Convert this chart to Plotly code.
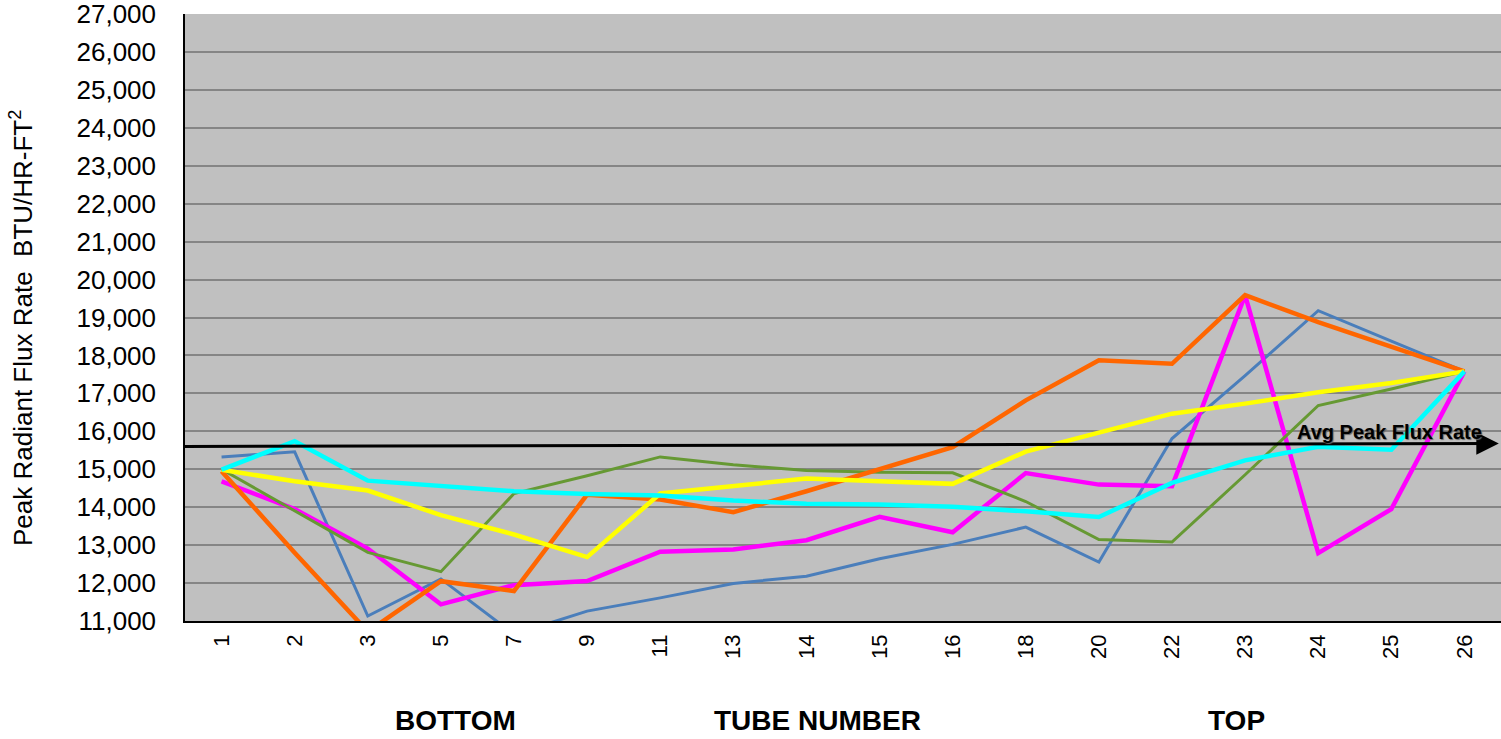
import plotly.graph_objects as go

tubes = ["1", "2", "3", "5", "7", "9", "11", "13", "14", "15", "16", "18", "20", "22", "23", "24", "25", "26"]

series_blue = [15320, 15460, 11130, 12110, 10650, 11260, 11610, 11990, 12180, 12640, 13020, 13475, 12555, 15810, 17470, 19180, 18380, 17580]
series_orange = [14950, 12800, 10720, 12050, 11790, 14330, 14200, 13870, 14420, 14990, 15580, 16815, 17875, 17780, 19590, 18880, 18240, 17580]
series_green = [15000, 13900, 12810, 12300, 14360, 14830, 15325, 15120, 14965, 14920, 14905, 14150, 13145, 13080, 14855, 16680, 17115, 17580]
series_magenta = [14680, 13950, 12910, 11440, 11945, 12055, 12825, 12885, 13130, 13745, 13340, 14900, 14595, 14550, 19590, 12790, 13950, 17580]
series_yellow = [14985, 14685, 14440, 13790, 13280, 12685, 14360, 14555, 14755, 14685, 14615, 15465, 15955, 16465, 16730, 17030, 17275, 17580]
series_cyan = [14990, 15740, 14700, 14555, 14420, 14350, 14305, 14175, 14090, 14070, 14010, 13890, 13740, 14640, 15235, 15590, 15515, 17580]

avg_start = 15600
avg_end = 15680

FONT = "Liberation Sans, Arial, sans-serif"

traces = [
    ("Series 1", series_blue, "#4A7EBB", 3),
    ("Series 4", series_magenta, "#FF00FF", 4.5),
    ("Series 3", series_green, "#669933", 3),
    ("Series 2", series_orange, "#FF6600", 4.5),
    ("Series 5", series_yellow, "#FFFF00", 4.5),
    ("Series 6", series_cyan, "#00FFFF", 4.5),
]

fig = go.Figure()
for name, vals, col, w in traces:
    fig.add_trace(go.Scatter(x=tubes, y=vals, mode="lines", name=name,
                             line=dict(color=col, width=w), showlegend=False,
                             hoverinfo="skip"))

fig.update_layout(
    width=1501, height=739,
    margin=dict(l=185, r=0, t=14, b=118, autoexpand=False),
    paper_bgcolor="white",
    plot_bgcolor="#C0C0C0",
    font=dict(family=FONT, color="black"),
    showlegend=False,
)

fig.update_xaxes(
    type="category", range=[-0.5, len(tubes) - 0.5], automargin=False,
    showgrid=False, showline=True, linecolor="black", linewidth=1.5,
    tickangle=-90, tickfont=dict(size=22, family=FONT, color="black"),
    ticks="", ticklabelstandoff=3, ticklabeloverflow="allow",
)
fig.update_yaxes(
    range=[11000, 27000], dtick=1000, tickformat=",", automargin=False,
    showgrid=True, gridcolor="#858585", gridwidth=1.5,
    showline=True, linecolor="black", linewidth=1.5,
    tickfont=dict(size=26, family=FONT, color="black"),
    ticks="", ticklabelstandoff=22, zeroline=False, ticklabeloverflow="allow",
)

# Average arrow
fig.add_annotation(
    x=len(tubes) - 0.53, y=avg_end, ax=-0.53, ay=avg_start,
    xref="x", yref="y", axref="x", ayref="y",
    showarrow=True, arrowhead=2, arrowsize=1.5, arrowwidth=3, arrowcolor="black",
    text="", standoff=0, startstandoff=0,
)
fig.add_annotation(
    x=15.97, y=15985, xref="x", yref="y", showarrow=False,
    xanchor="center", yanchor="middle",
    text="<b>Avg Peak Flux Rate</b>",
    font=dict(size=20, family=FONT, color="black", shadow="1px 1px 1px #666666"),
)

# Y axis title
fig.add_annotation(
    x=(21 - 185) / 1316, y=(621 - 328) / 607, xref="paper", yref="paper",
    xanchor="center", yanchor="middle", showarrow=False,
    textangle=-90, text="Peak Radiant Flux Rate\u00a0\u00a0BTU/HR-FT<sup>2</sup>",
    font=dict(size=26, family=FONT, color="black"),
)

# Bottom labels
for txt, xp in [("BOTTOM", (455 - 185) / 1316), ("TUBE NUMBER", (817 - 185) / 1316), ("TOP", (1236 - 185) / 1316)]:
    fig.add_annotation(
        x=xp, y=(621 - 720) / 607, xref="paper", yref="paper", showarrow=False,
        xanchor="center", yanchor="middle",
        text="<b>" + txt + "</b>", font=dict(size=28, family=FONT, color="black"),
    )

fig.write_html("out.html", config={"displayModeBar": False},
               post_script="document.body.style.margin='0';document.body.style.padding='0';")
